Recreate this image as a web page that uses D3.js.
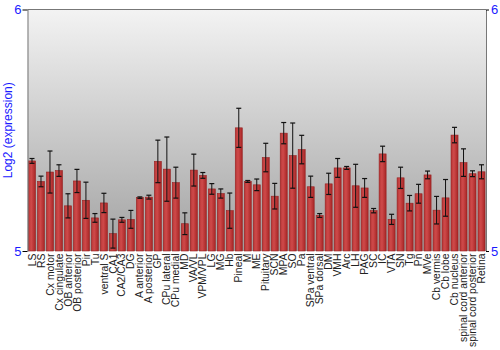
<!DOCTYPE html>
<html>
<head>
<meta charset="utf-8">
<script src="https://cdn.jsdelivr.net/npm/d3@7"></script>
<style>
  body { margin: 0; background: #fff; }
  text { font-family: "Liberation Sans", Arial, sans-serif; }
</style>
</head>
<body>
<div id="chart"></div>
<script>
// regions along the x axis
var regions = ["LS", "RS", "Cx motor", "Cx cingulate", "OB anterior", "OB posterior", "Pir", "Tu",
  "ventral S", "CA1", "CA2/CA3", "DG", "A anterior", "A posterior", "GP", "CPu lateral", "CPu medial",
  "MD", "VA/VL", "VPM/VPL", "LG", "MG", "Hb", "Pineal", "M", "ME", "Pituitary", "SCN", "MPA", "SO",
  "Pa", "SPa ventral", "SPa dorsal", "DM", "VMH", "Arc", "LH", "PAG", "SC", "IC", "VTA", "SN", "Tg",
  "Pn", "MVe", "Cb vermis", "Cb lobe", "Cb nucleus", "spinal cord anterior", "spinal cord posterior", "Retina"];
// log2 expression (means)
var means = [5.373, 5.288, 5.327, 5.333, 5.187, 5.290, 5.210, 5.137,
  5.199, 5.072, 5.129, 5.131, 5.221, 5.223, 5.371, 5.339, 5.283,
  5.113, 5.335, 5.313, 5.257, 5.238, 5.167, 5.510, 5.288, 5.274, 5.387, 5.227, 5.488, 5.395,
  5.420, 5.266, 5.147, 5.278, 5.344, 5.344, 5.270, 5.261, 5.167, 5.402, 5.131, 5.303, 5.198,
  5.237, 5.315, 5.169, 5.220, 5.480, 5.366, 5.320, 5.328];
// error (+/-)
var errors = [0.010, 0.022, 0.087, 0.024, 0.050, 0.048, 0.075, 0.018,
  0.040, 0.060, 0.010, 0.037, 0.003, 0.008, 0.088, 0.133, 0.064,
  0.045, 0.066, 0.012, 0.022, 0.019, 0.073, 0.081, 0.004, 0.024, 0.059, 0.053, 0.044, 0.135,
  0.059, 0.044, 0.008, 0.044, 0.039, 0.006, 0.089, 0.039, 0.009, 0.032, 0.021, 0.044, 0.032,
  0.039, 0.016, 0.057, 0.076, 0.032, 0.057, 0.012, 0.029];
var yTicks = [5, 6];

var W = 500, H = 350;
var margin = { top: 9.5, right: 14, bottom: 99, left: 27.5 };
var width = W - margin.left - margin.right;
var height = H - margin.top - margin.bottom;

var svg = d3.select("#chart").append("svg")
    .attr("width", W)
    .attr("height", H);

var defs = svg.append("defs");
var bg = defs.append("linearGradient").attr("id", "bg")
    .attr("x1", 0).attr("y1", 0).attr("x2", 0).attr("y2", 1);
bg.append("stop").attr("offset", "0%").attr("stop-color", "#f3f3f3");
bg.append("stop").attr("offset", "100%").attr("stop-color", "#a2a2a2");

var barGrad = defs.append("linearGradient").attr("id", "bar")
    .attr("x1", 0).attr("y1", 0).attr("x2", 1).attr("y2", 0);
barGrad.append("stop").attr("offset", "0%").attr("stop-color", "#b83636");
barGrad.append("stop").attr("offset", "40%").attr("stop-color", "#cf4a4a");
barGrad.append("stop").attr("offset", "100%").attr("stop-color", "#a82626");

var g = svg.append("g")
    .attr("transform", "translate(" + margin.left + "," + margin.top + ")");

var x = d3.scaleBand().domain(regions).range([0, width]).paddingInner(0.22).paddingOuter(0.11);
var y = d3.scaleLinear().domain([5, 6]).range([height, 0]);

g.append("rect")
    .attr("width", width)
    .attr("height", height)
    .style("fill", "url(#bg)");

// top border
g.append("line")
    .attr("x1", 0).attr("x2", width).attr("y1", 0).attr("y2", 0)
    .style("stroke", "#777").style("stroke-width", 1);

g.selectAll(".bar")
    .data(regions)
    .enter().append("rect")
    .attr("class", "bar")
    .attr("x", function(d) { return x(d); })
    .attr("y", function(d, i) { return y(means[i]); })
    .attr("width", x.bandwidth())
    .attr("height", function(d, i) { return height - y(means[i]); })
    .style("fill", "url(#bar)")
    .style("stroke", "#962020")
    .style("stroke-width", 0.6);

var err = g.selectAll(".err")
    .data(regions)
    .enter().append("g")
    .attr("class", "err")
    .attr("transform", function(d) { return "translate(" + (x(d) + x.bandwidth() / 2) + ",0)"; });
err.append("line")
    .attr("y1", function(d, i) { return y(means[i] - errors[i]); })
    .attr("y2", function(d, i) { return y(means[i] + errors[i]); })
    .style("stroke", "#111").style("stroke-width", 1);
err.append("line")
    .attr("x1", -2.5).attr("x2", 2.5)
    .attr("y1", function(d, i) { return y(means[i] + errors[i]); })
    .attr("y2", function(d, i) { return y(means[i] + errors[i]); })
    .style("stroke", "#111").style("stroke-width", 1.2);
err.append("line")
    .attr("x1", -2.5).attr("x2", 2.5)
    .attr("y1", function(d, i) { return y(means[i] - errors[i]); })
    .attr("y2", function(d, i) { return y(means[i] - errors[i]); })
    .style("stroke", "#111").style("stroke-width", 1.2);

var leftAxis = g.append("g")
    .call(d3.axisLeft(y).tickValues(yTicks).tickFormat(d3.format("d")).tickSize(5).tickSizeOuter(0));
var rightAxis = g.append("g")
    .attr("transform", "translate(" + width + ",0)")
    .call(d3.axisRight(y).tickValues(yTicks).tickFormat(d3.format("d")).tickSize(3).tickSizeOuter(0));
[leftAxis, rightAxis].forEach(function(a) {
  a.select(".domain").style("stroke", "#777");
  a.selectAll(".tick line").style("stroke", "#000");
  a.selectAll(".tick text")
    .style("fill", "#1a1aff")
    .style("font-size", "13px")
    .style("font-family", "Liberation Sans, Arial, sans-serif");
});
leftAxis.selectAll(".tick text").attr("x", -6);
rightAxis.selectAll(".tick text").attr("x", 5);

// category labels
g.selectAll(".xlabel")
    .data(regions)
    .enter().append("text")
    .attr("class", "xlabel")
    .text(function(d) { return d; })
    .attr("transform", function(d) {
      return "translate(" + (x(d) + x.bandwidth() / 2 + 3.6) + "," + (height + 2.5) + ") rotate(-90)";
    })
    .style("text-anchor", "end")
    .style("font-size", "10.4px")
    .attr("fill", "#222");

svg.append("text")
    .text("Log2 (expression)")
    .attr("transform", "translate(12," + (margin.top + height / 2) + ") rotate(-90)")
    .style("text-anchor", "middle")
    .style("font-size", "12px")
    .attr("fill", "#1a1aff");
</script>
</body>
</html>
